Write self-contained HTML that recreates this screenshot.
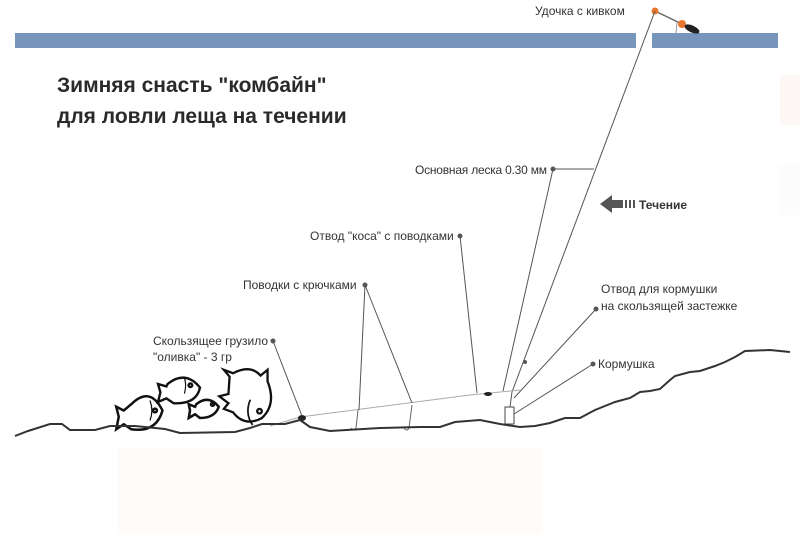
<!DOCTYPE html>
<html><head><meta charset="utf-8"><style>
html,body{margin:0;padding:0;background:#fff;}
svg{display:block;}
text{font-family:"Liberation Sans","DejaVu Sans",sans-serif;fill:#333;}
.l{font-size:12px;}
.t{font-size:21px;font-weight:bold;fill:#2a2a2a;}
</style></head><body>
<svg width="800" height="533" viewBox="0 0 800 533" xmlns="http://www.w3.org/2000/svg">
<rect x="117" y="447" width="425" height="86" fill="#fefbf8"/>
<rect x="780" y="75" width="20" height="50" fill="#fdf8f6"/>
<rect x="780" y="165" width="20" height="50" fill="#fcfcfc"/>
<!-- ice -->
<rect x="15" y="33" width="621" height="15" fill="#7896bb"/>
<rect x="652" y="33" width="126" height="15" fill="#7896bb"/>
<!-- rod -->
<line x1="655" y1="11" x2="682" y2="24" stroke="#666" stroke-width="1.5"/>
<line x1="677" y1="22" x2="676" y2="33" stroke="#999" stroke-width="1"/>
<circle cx="655" cy="11" r="3.5" fill="#e9762f"/>
<circle cx="682" cy="24" r="4" fill="#e9762f"/>
<ellipse cx="692" cy="29" rx="8" ry="3.5" fill="#222" transform="rotate(25 692 29)"/>
<text class="l" x="535" y="15">Удочка с кивком</text>
<!-- title -->
<text class="t" x="57" y="92">Зимняя снасть "комбайн"</text>
<text class="t" x="57" y="123">для ловли леща на течении</text>
<!-- main line -->
<line x1="655" y1="11" x2="512" y2="392" stroke="#555" stroke-width="1"/>
<!-- leader line -->
<polyline points="270,426 300,417 470,395 520,390" fill="none" stroke="#aaa" stroke-width="1"/>
<ellipse cx="302" cy="418" rx="4" ry="3" fill="#222"/>
<ellipse cx="488" cy="394" rx="4" ry="2" fill="#222"/>
<!-- hooks -->
<path d="M358,410 L356,428 q-2,4 -5,0" fill="none" stroke="#666"/>
<path d="M412,405 L409,428 q-2,4 -5,0" fill="none" stroke="#666"/>
<!-- feeder -->
<rect x="505" y="407" width="9" height="17" fill="#fff" stroke="#444"/>
<line x1="512" y1="392" x2="510" y2="407" stroke="#555"/>
<!-- labels -->
<g stroke="#555" stroke-width="1" fill="#555">
<line x1="553" y1="169" x2="594" y2="169"/><line x1="553" y1="169" x2="503" y2="391"/><circle cx="553" cy="169" r="2"/>
<line x1="460" y1="236" x2="477" y2="393"/><circle cx="460" cy="236" r="2"/>
<line x1="365" y1="285" x2="359" y2="410"/><line x1="365" y1="285" x2="412" y2="403"/><circle cx="365" cy="285" r="2"/>
<line x1="273" y1="341" x2="302" y2="416"/><circle cx="273" cy="341" r="2"/>
<line x1="596" y1="309" x2="514" y2="398"/><circle cx="596" cy="309" r="2"/>
<line x1="593" y1="364" x2="514" y2="414"/><circle cx="593" cy="364" r="2"/>
<circle cx="525" cy="362" r="1.5"/>
</g>
<text class="l" x="415" y="174" textLength="132">Основная леска 0.30 мм</text>
<text class="l" x="310" y="240">Отвод "коса" с поводками</text>
<text class="l" x="243" y="289">Поводки с крючками</text>
<text class="l" x="153" y="345">Скользящее грузило</text>
<text class="l" x="153" y="361">"оливка" - 3 гр</text>
<text class="l" x="601" y="293">Отвод для кормушки</text>
<text class="l" x="601" y="310">на скользящей застежке</text>
<text class="l" x="598" y="368">Кормушка</text>
<!-- current -->
<polygon points="600,204 612,195 612,200 623,200 623,208 612,208 612,213" fill="#555"/>
<rect x="625" y="200" width="2" height="8" fill="#555"/><rect x="629" y="200" width="2" height="8" fill="#555"/><rect x="633" y="200" width="2" height="8" fill="#555"/>
<text class="l" x="639" y="209" style="font-weight:bold">Течение</text>
<!-- fish -->
<g fill="#fff" stroke="#111" stroke-width="2">
<g transform="translate(140,408) scale(1.25) translate(-140,-408)">
<path d="M133,405 q15,-15 25,5 q-5,18 -25,15 l-6,-4 l-6,4 l2,-10 l-2,-8 l6,3 z"/><circle cx="152" cy="410" r="1.5"/><path d="M148,402 q3,8 0,16" fill="none" stroke-width="1"/></g>
<g transform="translate(182,390) scale(1.2) translate(-182,-390)">
<path d="M170,385 q15,-12 27,3 q-3,14 -22,13 l-6,-4 l-7,3 l2,-8 l-2,-7 l7,2 z"/><circle cx="189" cy="386" r="1.5"/><path d="M184,380 q2,6 0,13" fill="none" stroke-width="1"/></g>
<g transform="translate(205,408) scale(1.25) translate(-205,-408)">
<path d="M198,405 q10,-8 18,2 q-3,9 -15,9 l-4,-3 l-5,3 l1,-6 l-1,-5 l5,2 z"/><circle cx="211" cy="405" r="1.2"/></g>
<g transform="translate(248,402) scale(1.15) translate(-248,-402)">
<path d="M232,380 l-5,-6 l8,3 q15,-8 24,2 l6,-5 l0,10 q8,20 -5,32 q-15,8 -25,-5 l-8,-3 l4,-5 l-8,-6 l8,-2 z"/><circle cx="258" cy="410" r="2"/><path d="M250,400 q-5,12 2,22" fill="none" stroke-width="1.5"/></g>
</g>
<!-- ground -->
<polyline points="15,436 28,431 50,424 62,424 70,430 95,430 110,426 135,426 165,429 180,433 235,432 250,428 262,424 285,424 300,420 310,427 330,431 380,428 420,427 440,427 455,422 480,420 500,424 520,427 535,426 550,423 565,418 580,418 595,410 605,406 615,402 630,398 640,392 650,391 660,389 670,380 675,376 690,372 700,371 715,366 725,362 735,357 745,351 770,350 790,352" fill="none" stroke="#333" stroke-width="2"/>
</svg>
</body></html>
